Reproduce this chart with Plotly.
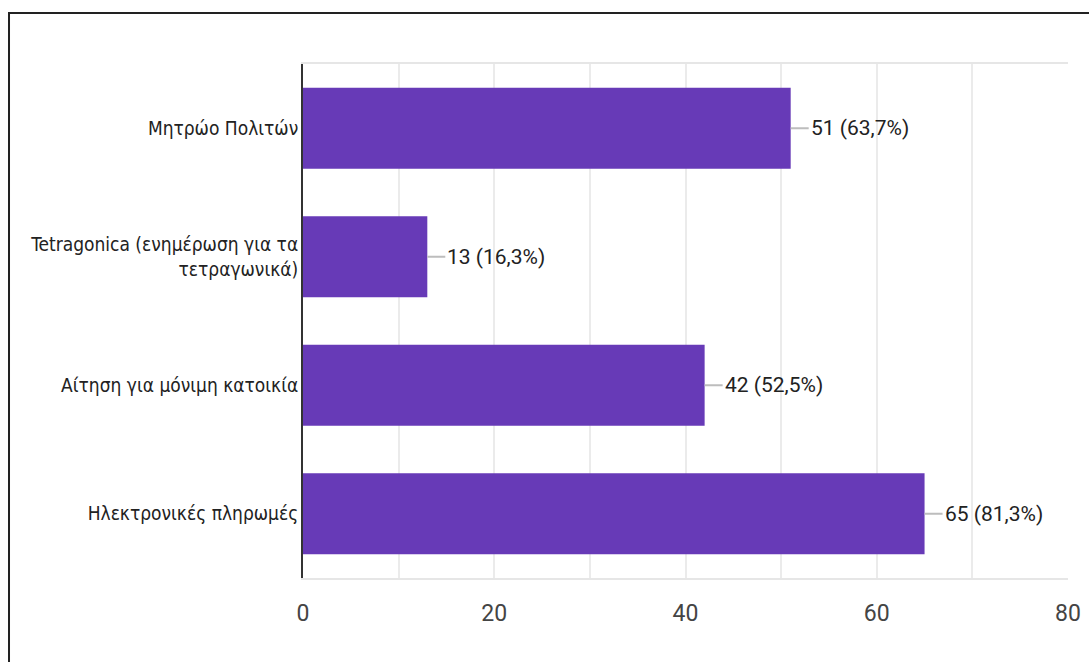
import plotly.graph_objects as go

# Survey responses per digital service (80 respondents)
categories = [
    "Μητρώο Πολιτών",
    "Tetragonica (ενημέρωση για τα<br>τετραγωνικά)",
    "Αίτηση για μόνιμη κατοικία",
    "Ηλεκτρονικές πληρωμές",
]
counts = [51, 13, 42, 65]
percent_labels = ["63,7%", "16,3%", "52,5%", "81,3%"]
x_ticks = [0, 20, 40, 60, 80]

FONT = "Roboto, Liberation Sans, Arial, sans-serif"
NARROW = "DejaVu Sans Condensed, Roboto Condensed, Roboto, sans-serif"
PURPLE = "#673AB7"

fig = go.Figure(
    go.Bar(
        x=counts,
        y=categories,
        orientation="h",
        marker=dict(color=PURPLE, line=dict(width=0)),
        width=0.63,
        hoverinfo="skip",
    )
)

# Value labels with a short grey leader line from the bar end
for cat, n, pct in zip(categories, counts, percent_labels):
    fig.add_annotation(
        x=n, y=cat, xref="x", yref="y",
        text=f"{n} ({pct})",
        showarrow=True, arrowhead=0, arrowwidth=2, arrowcolor="#bdbdbd",
        ax=18, ay=0, standoff=0, startstandoff=0,
        xanchor="left", yanchor="middle",
        font=dict(family=FONT, size=21, color="#222222"),
    )

# Outer frame around the chart
fig.add_shape(
    type="rect", xref="paper", yref="paper",
    x0=-0.3843, x1=1.1, y0=-0.2, y1=1.0992,
    line=dict(color="#222222", width=2), fillcolor="rgba(0,0,0,0)", layer="below",
)

fig.update_layout(
    width=1089, height=662,
    margin=dict(l=303, r=21, t=64, b=84, autoexpand=False),
    paper_bgcolor="white", plot_bgcolor="white",
    showlegend=False,
    font=dict(family=FONT, size=21, color="#444444"),
    bargap=0.37,
    xaxis=dict(
        range=[0, 80], tickvals=x_ticks,
        showgrid=True, gridcolor="#ebebeb", gridwidth=1.5,
        minor=dict(showgrid=True, gridcolor="#ebebeb", dtick=10, tick0=0),
        showline=True, linecolor="#e6e6e6", linewidth=2, mirror=True,
        zeroline=False, ticks="", ticklabelstandoff=13,
        tickfont=dict(family=FONT, size=23, color="#444444"),
        automargin=False, fixedrange=True,
    ),
    yaxis=dict(
        autorange="reversed",
        showgrid=False, zeroline=False,
        showline=True, linecolor="#333333", linewidth=2,
        ticks="", ticklabelstandoff=-1,
        tickfont=dict(family=NARROW, size=19, color="#222222"),
        automargin=False, fixedrange=True,
    ),
)

fig.write_html("out.html")
